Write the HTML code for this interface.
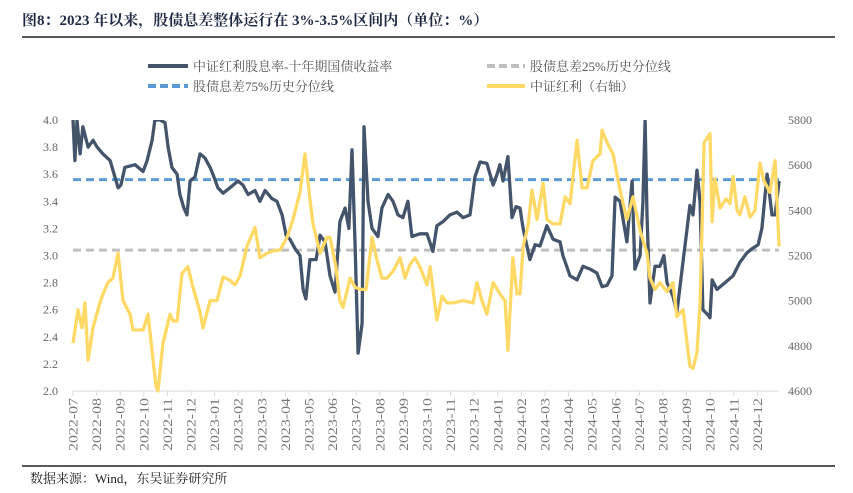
<!DOCTYPE html>
<html><head><meta charset="utf-8"><style>
body{margin:0;background:#fff;width:853px;height:488px;overflow:hidden;font-family:"Liberation Serif","Noto Serif CJK SC",serif}
</style></head><body>
<svg id="chart" width="853" height="488" xmlns="http://www.w3.org/2000/svg">
<text x="22" y="25" font-size="15" font-weight="bold" fill="#1f2a44" font-family="'Liberation Serif','Noto Serif CJK SC',serif">图8：2023 年以来，股债息差整体运行在 3%-3.5%区间内（单位：%）</text>
<line x1="22" y1="37" x2="835" y2="37" stroke="#222" stroke-width="1.5"/>
<g font-size="13" fill="#555" font-family="'Liberation Serif','Noto Serif CJK SC',serif">
<g><line x1="148" y1="66" x2="188" y2="66" stroke="#44546a" stroke-width="4"/><text x="193" y="71" fill="#555">中证红利股息率-十年期国债收益率</text></g>
<g><line x1="487" y1="66" x2="525" y2="66" stroke="#bfbfbf" stroke-width="4" stroke-dasharray="8,4"/><text x="530" y="71" fill="#555">股债息差25%历史分位线</text></g>
<g><line x1="148" y1="86" x2="188" y2="86" stroke="#5b9bd5" stroke-width="4" stroke-dasharray="8,4"/><text x="193" y="91" fill="#555">股债息差75%历史分位线</text></g>
<g><line x1="487" y1="86" x2="525" y2="86" stroke="#ffd966" stroke-width="4"/><text x="530" y="91" fill="#555">中证红利（右轴）</text></g>
</g>
<g id="plot"></g>
<line x1="22" y1="466" x2="835" y2="466" stroke="#222" stroke-width="1.5"/>
<text x="30" y="483" font-size="13" fill="#222">数据来源：Wind，东吴证券研究所</text>
</svg>
<script>
const monthLabels=["2022-07","2022-08","2022-09","2022-10","2022-11","2022-12","2023-01","2023-02","2023-03","2023-04","2023-05","2023-06","2023-07","2023-08","2023-09","2023-10","2023-11","2023-12","2024-01","2024-02","2024-03","2024-04","2024-05","2024-06","2024-07","2024-08","2024-09","2024-10","2024-11","2024-12"];
const leftTicks=[2.0,2.2,2.4,2.6,2.8,3.0,3.2,3.4,3.6,3.8,4.0];
const rightTicks=[4600,4800,5000,5200,5400,5600,5800];
const pct25=3.04;
const pct75=3.56;
// month offsets from 2022-07-01
const spreadT=[0,.08,.17,.3,.42,.64,.85,1.02,1.27,1.57,1.91,2.03,2.2,2.63,2.97,3.14,3.35,3.47,3.69,3.9,4.03,4.19,4.41,4.53,4.7,4.83,4.96,5.17,5.38,5.59,5.81,5.93,6.14,6.36,6.65,6.99,7.2,7.42,7.71,7.92,8.14,8.43,8.64,8.86,9.03,9.19,9.41,9.62,9.75,9.87,10.04,10.3,10.47,10.68,10.89,11.1,11.31,11.53,11.69,11.82,11.95,12.08,12.25,12.33,12.5,12.67,12.92,13.09,13.35,13.56,13.77,13.98,14.19,14.36,14.7,15.0,15.25,15.42,15.68,15.97,16.27,16.53,16.82,17.03,17.25,17.54,17.8,17.97,18.09,18.22,18.43,18.6,18.77,18.94,19.07,19.36,19.58,19.79,20.08,20.34,20.64,20.76,21.06,21.36,21.61,21.91,22.2,22.42,22.63,22.84,22.97,23.18,23.47,23.69,23.81,24.03,24.15,24.24,24.32,24.45,24.66,24.87,25.04,25.17,25.42,25.59,25.85,26.02,26.14,26.27,26.44,26.57,26.69,26.91,26.99,27.08,27.29,27.63,27.97,28.26,28.56,28.77,29.03,29.19,29.41,29.62,29.75,29.92];
const spreadV=[4.0,3.7,4.0,3.75,3.95,3.8,3.85,3.8,3.75,3.7,3.5,3.52,3.65,3.67,3.62,3.7,3.85,4.0,4.0,3.98,3.8,3.65,3.6,3.45,3.35,3.3,3.55,3.58,3.75,3.72,3.65,3.6,3.5,3.46,3.5,3.55,3.52,3.45,3.48,3.4,3.48,3.42,3.4,3.3,3.15,3.12,3.05,3.0,2.75,2.68,2.97,2.97,3.15,3.1,2.85,2.73,3.25,3.35,3.2,3.78,3.1,2.28,2.5,3.95,3.4,3.2,3.14,3.35,3.45,3.4,3.3,3.28,3.4,3.14,3.16,3.16,3.03,3.22,3.25,3.3,3.32,3.28,3.3,3.58,3.69,3.68,3.52,3.6,3.67,3.55,3.73,3.28,3.36,3.35,3.2,2.97,3.08,3.07,3.22,3.12,3.1,3.0,2.85,2.82,2.92,2.9,2.87,2.77,2.78,2.85,3.43,3.4,3.1,3.55,2.9,3.0,3.39,4.0,3.3,2.65,2.92,2.92,3.0,2.8,2.7,2.58,2.96,3.2,3.37,3.3,3.63,3.39,2.6,2.56,2.54,2.82,2.75,2.8,2.85,2.95,3.02,3.05,3.08,3.2,3.6,3.3,3.3,3.55];
const indexT=[0,.21,.38,.51,.64,.85,1.14,1.27,1.48,1.69,1.91,2.12,2.42,2.54,2.97,3.18,3.39,3.52,3.6,3.81,4.11,4.24,4.41,4.62,4.87,5.08,5.38,5.51,5.81,6.1,6.36,6.65,6.86,7.08,7.37,7.71,7.92,8.22,8.47,8.77,9.07,9.32,9.62,9.83,10.04,10.17,10.47,10.76,10.89,11.14,11.31,11.44,11.74,11.95,12.16,12.42,12.67,12.88,13.09,13.31,13.56,13.86,14.07,14.28,14.49,14.7,15.0,15.13,15.42,15.64,15.85,16.1,16.53,16.95,17.12,17.33,17.54,17.8,18.09,18.31,18.43,18.64,18.81,18.94,19.07,19.28,19.45,19.66,19.92,20.08,20.34,20.64,20.85,21.06,21.36,21.57,21.78,22.03,22.33,22.42,22.63,22.88,23.18,23.47,23.73,24.03,24.32,24.45,24.66,24.87,25.17,25.42,25.59,25.85,26.02,26.14,26.27,26.44,26.57,26.74,26.99,27.08,27.2,27.42,27.67,27.84,27.97,28.14,28.26,28.47,28.69,28.9,29.11,29.28,29.53,29.75,29.92];
const indexV=[4812,4960,4880,4990,4737,4883,4990,5030,5080,5100,5210,5000,4940,4870,4870,4940,4740,4620,4600,4810,4940,4910,4910,5120,5150,5060,4950,4880,5000,5000,5105,5090,5070,5110,5240,5325,5190,5210,5220,5225,5280,5360,5480,5650,5450,5340,5210,5280,5280,5150,5000,4970,5100,5060,5050,5050,5280,5180,5100,5100,5130,5190,5100,5160,5190,5150,5070,5150,4915,5020,4990,4990,5000,4990,5080,5000,4940,5080,5030,5000,4780,5190,5030,5030,5240,5330,5490,5360,5520,5360,5340,5340,5460,5430,5710,5500,5500,5620,5650,5755,5700,5650,5490,5360,5460,5310,5210,5100,5050,5080,5040,5080,4930,4960,4810,4710,4700,4770,4990,5700,5740,5350,5540,5410,5450,5430,5550,5400,5380,5460,5370,5400,5610,5530,5480,5620,5240];

const NS="http://www.w3.org/2000/svg";
const plot=document.getElementById('plot');
const X0=73,MW=23.6,YT=120,YB=391,XR=779;
const xS=t=>X0+t*MW;
const yL=v=>YB-(v-2)/(4-2)*(YB-YT);
const yR=v=>YB-(v-4600)/(5800-4600)*(YB-YT);
function mk(tag,attrs){const e=document.createElementNS(NS,tag);for(const k in attrs)e.setAttribute(k,attrs[k]);plot.appendChild(e);return e;}
let ax=mk('line',{x1:X0,y1:YB,x2:XR,y2:YB,stroke:'#d9d9d9','stroke-width':1});


monthLabels.forEach((m,i)=>{
  const x=xS(i);
  const tk=mk('line',{x1:x,y1:YB,x2:x,y2:YB+5,stroke:'#d9d9d9'});
  
  
  const t=mk('text',{x:0,y:0,'font-size':12.5,fill:'#777','text-anchor':'end',textLength:53,lengthAdjust:'spacingAndGlyphs',transform:`translate(${x+4.5},${YB+7}) rotate(-90)`});
  t.textContent=m;
  
  
});
leftTicks.forEach(v=>{
  const t=mk('text',{x:58,y:yL(v)+4,'font-size':12,fill:'#666','text-anchor':'end'});
  t.textContent=v.toFixed(1);
  
  
});
rightTicks.forEach(v=>{
  const t=mk('text',{x:788,y:yR(v)+4,'font-size':12,fill:'#666'});
  t.textContent=v;
  
  
});
function path(T,V,sc){return T.map((t,i)=>(i?'L':'M')+xS(t).toFixed(1)+','+sc(V[i]).toFixed(1)).join('');}
const l25=mk('line',{x1:X0,y1:yL(pct25),x2:XR,y2:yL(pct25),stroke:'#bfbfbf','stroke-width':3,'stroke-dasharray':'8,5'});


const l75=mk('line',{x1:X0,y1:yL(pct75),x2:XR,y2:yL(pct75),stroke:'#5b9bd5','stroke-width':3,'stroke-dasharray':'8,5'});


const sp=mk('path',{d:path(spreadT,spreadV,yL),fill:'none',stroke:'#44546a','stroke-width':3.3,'stroke-linejoin':'round'});


const ix=mk('path',{d:path(indexT,indexV,yR),fill:'none',stroke:'#ffd966','stroke-width':3.3,'stroke-linejoin':'round'});


const cp=document.createElementNS(NS,'clipPath');cp.setAttribute('id','c');
const r=document.createElementNS(NS,'rect');r.setAttribute('x',X0-2);r.setAttribute('y',YT);r.setAttribute('width',XR-X0+4);r.setAttribute('height',YB-YT+2);
cp.appendChild(r);plot.appendChild(cp);
sp.setAttribute('clip-path','url(#c)');ix.setAttribute('clip-path','url(#c)');
</script>
</body></html>
